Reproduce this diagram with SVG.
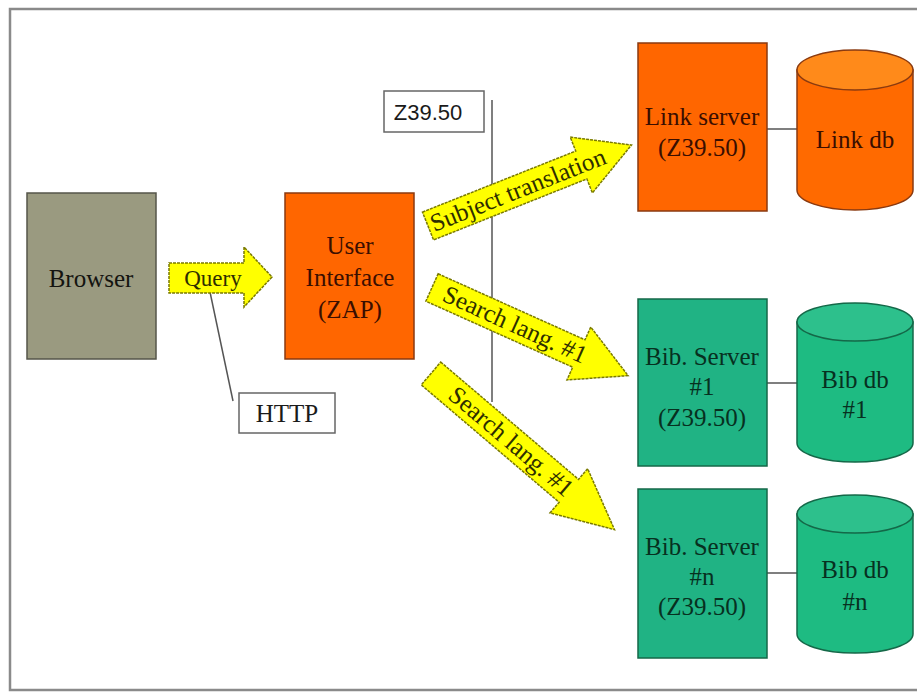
<svg xmlns="http://www.w3.org/2000/svg" width="917" height="692" viewBox="0 0 917 692">
<style>
  .t { font-family: "Liberation Serif", "Times New Roman", serif; font-size: 25px; text-anchor: middle; }
  .s { font-family: "Liberation Sans", Arial, sans-serif; font-size: 22px; text-anchor: middle; fill: #1a1a1a; }
  .orange { fill: #FF6600; stroke: #8a3a10; stroke-width: 1.5; }
  .cylo { fill: #FF6A00; stroke: #8a3a10; stroke-width: 1.5; }
  .cylotop { fill: #FF8A1A; stroke: #8a3a10; stroke-width: 1.5; }
  .green { fill: #20B384; stroke: #146848; stroke-width: 1.5; }
  .cylg { fill: #1EBB82; stroke: #146848; stroke-width: 1.5; }
  .cylgtop { fill: #2DC08C; stroke: #146848; stroke-width: 1.5; }
  .to { fill: #3a0e00; }
  .tg { fill: #07301f; }
  .ta { fill: #2e2e00; }
  .arrow { fill: #FFFF00; stroke: #7a7a00; stroke-width: 1.5; stroke-dasharray: 3 1; }
  .line { stroke: #555; stroke-width: 1.5; fill: none; }
  .label { fill: #fff; stroke: #666; stroke-width: 1.5; }
</style>
<rect x="0" y="0" width="917" height="692" fill="#ffffff"/>
<rect x="10" y="9" width="912" height="681" fill="none" stroke="#8a8a8a" stroke-width="2.5"/>

<g id="connectors">
  <line class="line" x1="767" y1="129" x2="797" y2="129"/>
  <line class="line" x1="767" y1="383" x2="797" y2="383"/>
  <line class="line" x1="767" y1="573" x2="797" y2="573"/>
  <line class="line" x1="210" y1="292" x2="233" y2="401"/>
  <line class="line" x1="492" y1="100" x2="492" y2="402"/>
  <g id="arrow-query">
    <polygon class="arrow" points="169,263 244,263 244,247 272,277 244,307 244,293 169,293"/>
    <text class="t ta" x="213" y="286" style="font-size:23px">Query</text>
  </g>
  <g id="arrow-subject" transform="translate(428,226) rotate(-21.7)">
    <polygon class="arrow" points="0,-15 165,-15 165,-30 219,0 165,30 165,15 0,15"/>
    <text class="t ta" x="97" y="8">Subject translation</text>
  </g>
  <g id="arrow-search1" transform="translate(432,287.5) rotate(24.2)">
    <polygon class="arrow" points="0,-15 161,-15 161,-29 215,0 161,29 161,15 0,15"/>
    <text class="t ta" x="91" y="8">Search lang. #1</text>
  </g>
  <g id="arrow-search2" transform="translate(431,373.5) rotate(40.4)">
    <polygon class="arrow" points="0,-15 181,-15 181,-29 241,0 181,29 181,15 0,15"/>
    <text class="t ta" x="105" y="8">Search lang. #1</text>
  </g>
</g>

<g id="browser">
  <rect x="27" y="193" width="129" height="166" fill="#9A9A80" stroke="#55554a" stroke-width="1.5"/>
  <text class="t" x="91" y="287" fill="#141410">Browser</text>
</g>

<g id="http">
  <rect class="label" x="239" y="393" width="96" height="40"/>
  <text class="t" x="287" y="422" fill="#1a1a1a">HTTP</text>
</g>

<g id="z3950-label">
  <rect class="label" x="384" y="91" width="100" height="41"/>
  <text class="s" x="428" y="120">Z39.50</text>
</g>

<g id="user-interface">
  <rect class="orange" x="285" y="193" width="129" height="166"/>
  <text class="t to" x="350" y="254">User</text>
  <text class="t to" x="350" y="286">Interface</text>
  <text class="t to" x="350" y="318">(ZAP)</text>
</g>

<g id="link-server">
  <rect class="orange" x="638" y="43" width="129" height="168"/>
  <text class="t to" x="702" y="125">Link server</text>
  <text class="t to" x="702" y="156">(Z39.50)</text>
</g>

<g id="link-db">
  <path class="cylo" d="M797,70 L797,190 A58,20 0 0 0 913,190 L913,70 Z"/>
  <ellipse class="cylotop" cx="855" cy="70" rx="58" ry="20"/>
  <text class="t to" x="855" y="148">Link db</text>
</g>

<g id="bib-server-1">
  <rect class="green" x="638" y="299" width="129" height="167"/>
  <text class="t tg" x="702" y="365">Bib. Server</text>
  <text class="t tg" x="702" y="395">#1</text>
  <text class="t tg" x="702" y="426">(Z39.50)</text>
</g>

<g id="bib-db-1">
  <path class="cylg" d="M797,322 L797,443 A58,19 0 0 0 913,443 L913,322 Z"/>
  <ellipse class="cylgtop" cx="855" cy="322" rx="58" ry="19"/>
  <text class="t tg" x="855" y="388">Bib db</text>
  <text class="t tg" x="855" y="418">#1</text>
</g>

<g id="bib-server-n">
  <rect class="green" x="638" y="489" width="129" height="169"/>
  <text class="t tg" x="702" y="555">Bib. Server</text>
  <text class="t tg" x="702" y="585">#n</text>
  <text class="t tg" x="702" y="615">(Z39.50)</text>
</g>

<g id="bib-db-n">
  <path class="cylg" d="M797,514 L797,634 A58,19 0 0 0 913,634 L913,514 Z"/>
  <ellipse class="cylgtop" cx="855" cy="514" rx="58" ry="19"/>
  <text class="t tg" x="855" y="578">Bib db</text>
  <text class="t tg" x="855" y="610">#n</text>
</g>
</svg>
